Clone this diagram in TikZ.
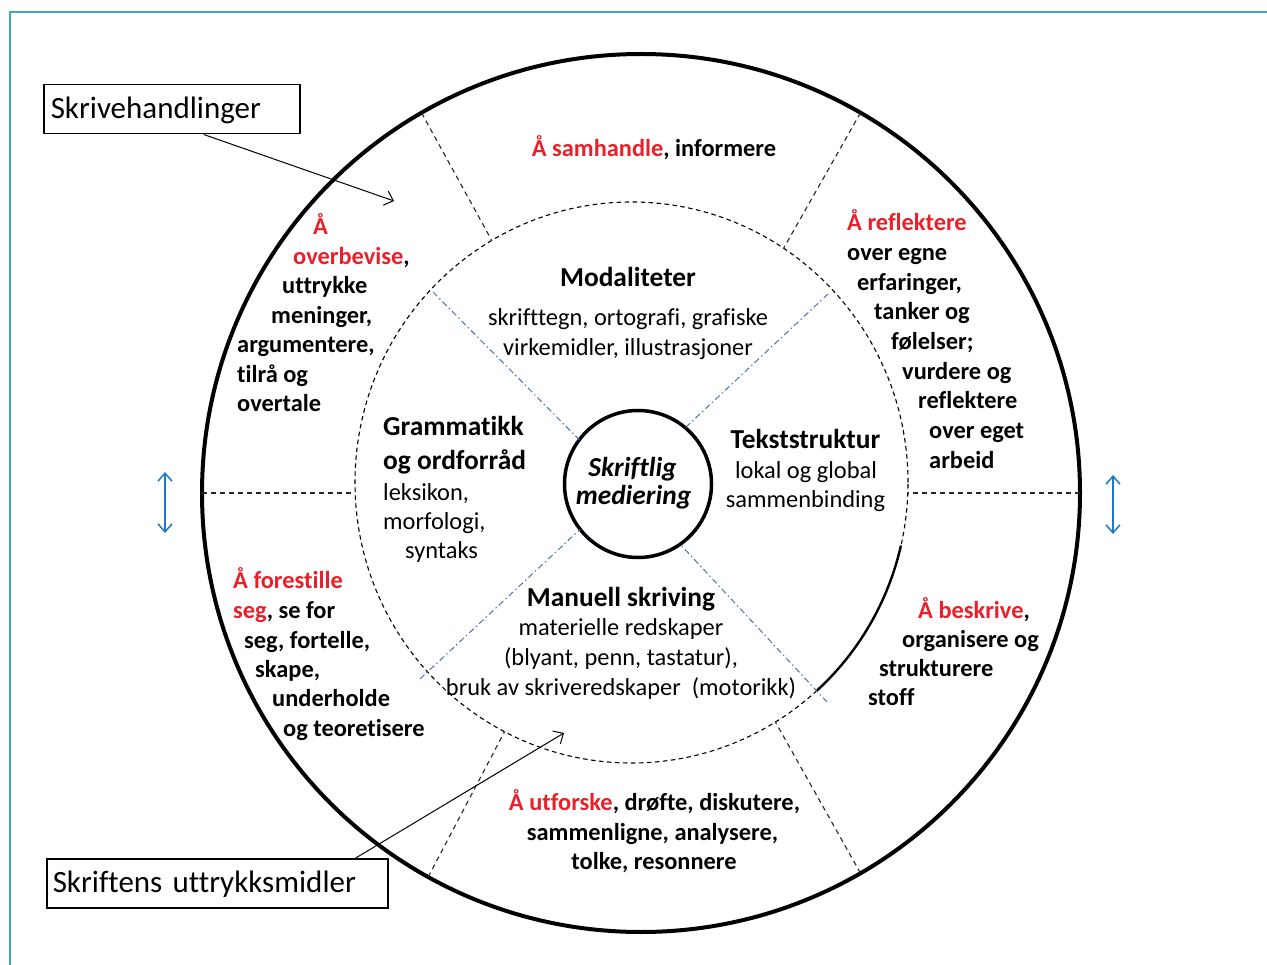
\documentclass[tikz,border=0pt]{standalone}
\usepackage{fontspec}
\setmainfont[Ligatures={NoCommon}]{Carlito}
\usetikzlibrary{arrows.meta,calc,shapes.geometric}
\definecolor{framec}{HTML}{4AA3BC}
\definecolor{myred}{HTML}{E8202A}
\definecolor{arrblue}{HTML}{1E78C8}
\definecolor{dotblue}{HTML}{4A74A8}
\begin{document}
\begin{tikzpicture}[x=1pt,y=-1pt,
  ob/.style={font=\fontsize{24.4}{29}\selectfont\bfseries, inner sep=0pt, anchor=base west},
  obc/.style={ob, anchor=base},
  rg/.style={font=\fontsize{24.4}{29}\selectfont, inner sep=0pt, anchor=base},
  rgw/.style={rg, anchor=base west},
  hd/.style={font=\fontsize{27.4}{33}\selectfont\bfseries, inner sep=0pt, anchor=base},
  hdw/.style={hd, anchor=base west},
  hdi/.style={font=\fontsize{27.4}{33}\selectfont\bfseries\itshape, inner sep=0pt, anchor=base},
  lbl/.style={draw, line width=1.5pt, font=\fontsize{31}{37}\selectfont, align=left, inner ysep=0pt, text height=23.5pt, text depth=4.5pt, minimum height=49pt, anchor=north west},
  barb/.style={-{Straight Barb[length=8pt,width=15pt]}, line width=1pt},
  dbarb/.style={{Straight Barb[length=8pt,width=14pt]}-{Straight Barb[length=8pt,width=14pt]}, line width=1.5pt, arrblue},
  rad/.style={dash pattern=on 5pt off 4pt, line width=1.1pt, black!85},
  dd/.style={dash pattern=on 6pt off 3pt on 1.5pt off 3pt, line width=1pt, dotblue},
  red/.style={text=myred}
]
\useasboundingbox (0,0) rectangle (1267,965);
% frame
\draw[framec, line width=2pt] (10,965) -- (10,12) -- (1267,12);

% circles
\node[circle, draw, line width=4pt, minimum size=878pt, inner sep=0pt, outer sep=0pt] (outer) at (641,493) {};
\node[ellipse, draw, dash pattern=on 4.5pt off 3.5pt, line width=1.1pt, minimum width=553pt, minimum height=561pt, inner sep=0pt, outer sep=0pt] (inner) at (631.5,482.5) {};
\draw[line width=2.4pt] ($(inner.center)+(-13:276.5pt and 280.5pt)$) arc[start angle=-13, end angle=-48, x radius=276.5pt, y radius=280.5pt];
\node[circle, draw, line width=3.5pt, minimum size=147pt, inner sep=0pt, outer sep=0pt] (med) at (638,484) {};

% radial dashed lines
\draw[rad] (outer.120) -- (inner.120);
\draw[rad] (outer.60.3) -- (inner.57);
\draw[rad] (outer.-119.9) -- (inner.-117.3);
\draw[rad] (outer.-60.3) -- (inner.-59.6);
\draw[rad] (outer.west) -- (outer.west -| inner.west);
\draw[rad] (outer.east) -- (outer.east -| inner.east);

% blue dash-dot lines
\coordinate (ddNW) at (433,292);
\coordinate (ddNE) at (828,294);
\coordinate (ddSW) at (420,679);
\coordinate (ddSE) at (827,702);
\draw[dd] (ddNW) -- (med.143);
\draw[dd] (ddNE) -- (med.50.7);
\draw[dd] (ddSW) -- (med.-142.7);
\draw[dd] (ddSE) -- (med.-55.7);

% label boxes and arrows
\node[lbl, text width=242pt, inner xsep=7pt] (skr) at (43,84) {Skrivehandlinger};
\node[lbl, text width=329pt, inner xsep=6pt] (utt) at (46,858) {Skriftens uttrykksmidler};
\coordinate (a1) at (394,201);
\coordinate (a2) at (564,733);
\draw[barb] ([xshift=32pt]skr.south) -- (a1);
\draw[barb] ([xshift=138.5pt]utt.north) -- (a2);

% blue double arrows
\coordinate (bl1) at (165,472);
\coordinate (bl2) at (165,533);
\coordinate (br1) at (1113,475);
\coordinate (br2) at (1113,534);
\draw[dbarb] (bl1) -- (bl2);
\draw[dbarb] (br1) -- (br2);

\begin{scope}[yshift=-1.5pt]
% outer ring texts
\node[obc] (t1) at (654,155) {\textcolor{myred}{Å samhandle}, informere};

\node[ob, red] (lt1) at (313,233) {Å};
\node[ob] (lt2) at (293,263) {\textcolor{myred}{overbevise},};
\node[ob] (lt3) at (282,292) {uttrykke};
\node[ob] (lt4) at (271,322) {meninger,};
\node[ob] (lt5) at (237,351) {argumentere,};
\node[ob] (lt6) at (237,381) {tilrå og};
\node[ob] (lt7) at (237,410) {overtale};

\node[ob, red] (rt1) at (847,229) {Å reflektere};
\node[ob] (rt2) at (847,259) {over egne};
\node[ob] (rt3) at (857,289) {erfaringer,};
\node[ob] (rt4) at (874,318) {tanker og};
\node[ob] (rt5) at (891,348) {følelser;};
\node[ob] (rt6) at (902,378) {vurdere og};
\node[ob] (rt7) at (918,407) {reflektere};
\node[ob] (rt8) at (929,437) {over eget};
\node[ob] (rt9) at (929,467) {arbeid};

\node[ob, red] (lb1) at (233,587) {Å forestille};
\node[ob] (lb2) at (233,617) {\textcolor{myred}{seg}, se for};
\node[ob] (lb3) at (244,647) {seg, fortelle,};
\node[ob] (lb4) at (255,676) {skape,};
\node[ob] (lb5) at (272,705) {underholde};
\node[ob] (lb6) at (283,735) {og teoretisere};

\node[ob] (rb1) at (918,617) {\textcolor{myred}{Å beskrive},};
\node[ob] (rb2) at (902,646) {organisere og};
\node[ob] (rb3) at (879,675) {strukturere};
\node[ob] (rb4) at (868,704) {stoff};

\node[obc] (b1) at (654.5,809) {\textcolor{myred}{Å utforske}, drøfte, diskutere,};
\node[obc] (b2) at (652.5,839) {sammenligne, analysere,};
\node[obc] (b3) at (654,868) {tolke, resonnere};

% inner texts
\node[hd] (m1) at (628,285) {Modaliteter};
\node[rg] (m2) at (628,324) {skrifttegn, ortografi, grafiske};
\node[rg] (m3) at (628,354) {virkemidler, illustrasjoner};

\node[hdw] (g1) at (383,434) {Grammatikk};
\node[hdw] (g2) at (383,468) {og ordforråd};
\node[rgw] (g3) at (383,499) {leksikon,};
\node[rgw] (g4) at (383,528) {morfologi,};
\node[rgw] (g5) at (405,557) {syntaks};

\node[hd] (k1) at (805.5,447) {Tekststruktur};
\node[rg] (k2) at (806,477) {lokal og global};
\node[rg] (k3) at (805.5,506) {sammenbinding};

\node[hdi] (s1) at (632.5,475) {Skriftlig};
\node[hdi] (s2) at (633.5,503) {mediering};

\node[hd] (u1) at (621,605) {Manuell skriving};
\node[rg] (u2) at (621,634) {materielle redskaper};
\node[rg] (u3) at (621,664) {(blyant, penn, tastatur),};
\node[rg] (u4) at (621,694) {bruk av skriveredskaper~ (motorikk)};
\end{scope}
\end{tikzpicture}
\end{document}
